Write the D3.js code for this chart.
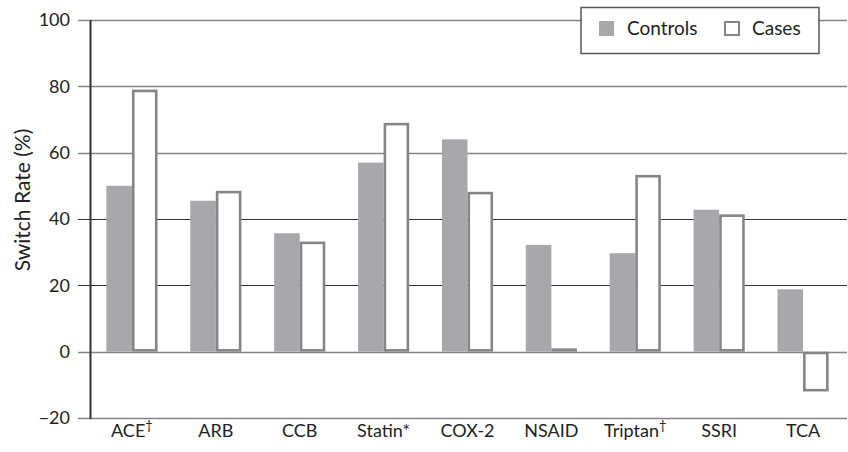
<!DOCTYPE html>
<html><head><meta charset="utf-8">
<script src="https://cdn.jsdelivr.net/npm/d3@7"></script>
<style>
html,body{margin:0;padding:0;background:#fff;}
svg{display:block;font-family:Lato,"Open Sans",sans-serif;}
</style></head>
<body>
<svg id="chart" width="848" height="452"></svg>
<script>
const categories = ["ACE", "ARB", "CCB", "Statin", "COX-2", "NSAID", "Triptan", "SSRI", "TCA"];
const marks = ["†", "", "", "*", "", "", "†", "", ""];
const controls = [50, 45.5, 35.7, 57, 64, 32.2, 29.7, 42.8, 18.8];
const cases = [79, 48.5, 33.2, 69, 48.2, 1, 53.3, 41.4, -12];
const seriesNames = ["Controls", "Cases"];
const yTicks = [-20, 0, 20, 40, 60, 80, 100];

const svg = d3.select("#chart");
const x = d3.scaleBand().domain(categories).range([90, 845]).paddingInner(0.39).paddingOuter(0.195);
const xs = d3.scaleBand().domain(seriesNames).range([0, x.bandwidth()]);
const y = d3.scaleLinear().domain([-20, 100]).range([418, 20]);

// gridlines
svg.append("g").selectAll("line").data(yTicks).join("line")
  .attr("x1", 78).attr("x2", 847)
  .attr("y1", d => Math.round(y(d)) + 0.5).attr("y2", d => Math.round(y(d)) + 0.5)
  .attr("stroke", d => (d === 20 || d === 40) ? "#333" : "#858585")
  .attr("stroke-width", d => (d === 20 || d === 40) ? 1 : 1.5);

// tick labels
svg.append("g").selectAll("text").data(yTicks).join("text")
  .attr("x", 70).attr("y", d => y(d)).attr("dy", "0.36em")
  .attr("text-anchor", "end").attr("font-size", 18).attr("fill", "#222")
  .text(d => d < 0 ? "\u2212" + Math.abs(d) : d);

// bars
const rows = categories.map((c, i) => ({c, controls: controls[i], cases: cases[i]}));
const g = svg.append("g");
g.selectAll("rect.ctrl").data(rows).join("rect").attr("class", "ctrl")
  .attr("x", d => x(d.c) + xs("Controls"))
  .attr("width", xs.bandwidth())
  .attr("y", d => y(Math.max(0, d.controls)))
  .attr("height", d => Math.abs(y(d.controls) - y(0)))
  .attr("fill", "#a7a8ac");
const sw = 2.6;
g.selectAll("rect.case").data(rows).join("rect").attr("class", "case")
  .attr("x", d => x(d.c) + xs("Cases") + sw / 2)
  .attr("width", xs.bandwidth() - sw)
  .attr("y", d => y(Math.max(0, d.cases)) + sw / 2)
  .attr("height", d => Math.max(0, Math.abs(y(d.cases) - y(0)) - sw))
  .attr("fill", "#fff").attr("stroke", "#858585").attr("stroke-width", sw);

// y axis line
svg.append("line").attr("x1", 90.5).attr("x2", 90.5).attr("y1", y(100)).attr("y2", y(-20) + 1)
  .attr("stroke", "#333").attr("stroke-width", 2);

// x labels
const xl = svg.append("g").selectAll("text").data(categories).join("text")
  .attr("x", d => x(d) + x.bandwidth() / 2).attr("y", 437)
  .attr("text-anchor", "middle").attr("font-size", 18).attr("fill", "#222");
xl.append("tspan").text(d => d);
xl.append("tspan")
  .attr("font-size", (d, i) => marks[i] === "†" ? 13 : 18)
  .attr("dy", (d, i) => marks[i] === "†" ? -7 : 0)
  .text((d, i) => marks[i]);

// y title
svg.append("text").attr("transform", "translate(30,200) rotate(-90)")
  .attr("text-anchor", "middle").attr("font-size", 21).attr("fill", "#222")
  .text("Switch Rate (%)");

// legend
const lg = svg.append("g");
lg.append("rect").attr("x", 581).attr("y", 7.5).attr("width", 238).attr("height", 46)
  .attr("fill", "#fff").attr("stroke", "#555").attr("stroke-width", 1.5);
lg.append("rect").attr("x", 599).attr("y", 21).attr("width", 15).attr("height", 15).attr("fill", "#a7a8ac");
lg.append("rect").attr("x", 725).attr("y", 22).attr("width", 14).attr("height", 13)
  .attr("fill", "#fff").attr("stroke", "#858585").attr("stroke-width", 2);
lg.append("text").attr("x", 627).attr("y", 35).attr("font-size", 19).attr("fill", "#222").text(seriesNames[0]);
lg.append("text").attr("x", 752).attr("y", 35).attr("font-size", 19).attr("fill", "#222").text(seriesNames[1]);
</script>
</body></html>
